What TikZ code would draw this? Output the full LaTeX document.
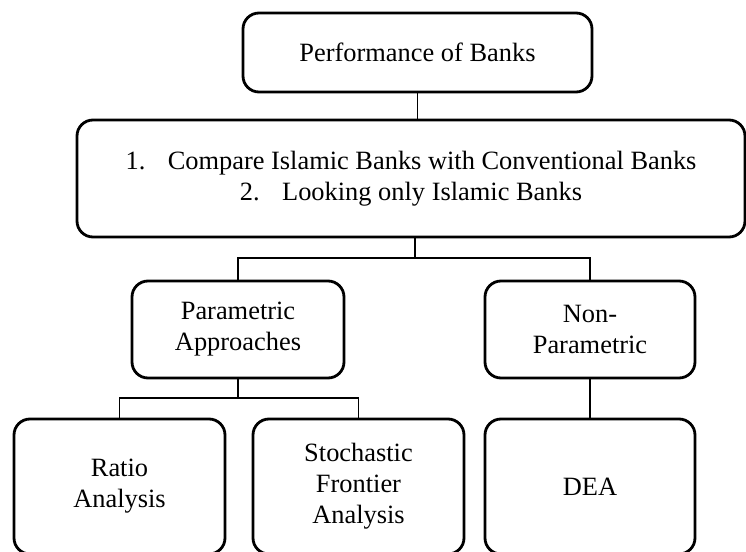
\documentclass[tikz,border=0pt]{standalone}
\usepackage{fontspec}
\setmainfont{Liberation Serif}
\begin{document}
\begin{tikzpicture}[x=0.5pt,y=-0.5pt,
  box/.style={draw, line width=1.4pt, rounded corners=8pt, align=center,
    inner sep=0pt, font=\fontsize{13.2}{15.5}\selectfont},
  link/.style={line width=0.6pt}]
\useasboundingbox (0,0) rectangle (746,552);
\clip (0,0) rectangle (746,552);

% boxes
\node[box, minimum width=174.5pt, minimum height=39.5pt] (perf) at (417.5,52.5) {Performance of Banks};
\node[box, minimum width=334pt, minimum height=58.5pt] (aims) at (411,178.5)
  {1.\hspace{0.85em}Compare Islamic Banks with Conventional Banks\\2.\hspace{0.85em}Looking only Islamic Banks};
\node[box, minimum width=106pt, minimum height=48.5pt] (param) at (238,329.5) {Parametric\\Approaches};
\node[box, minimum width=105pt, minimum height=48.5pt] (nonparam) at (590,329.5) {Non-\\Parametric};
\node[box, minimum width=105.5pt, minimum height=67.5pt] (ratio) at (119.5,486.5) {Ratio\\Analysis};
\node[box, minimum width=105.5pt, minimum height=67.5pt] (sfa) at (358.5,486.5) {Stochastic\\Frontier\\Analysis};
\node[box, minimum width=105pt, minimum height=67.5pt] (dea) at (590,486.5) {DEA};

% junction levels
\coordinate (j1) at (415,258);
\coordinate (j2) at (238,398);

% connectors
\draw[link] (perf.south) -- (perf.south |- aims.north);
\draw[link] (aims.south -| j1) -- (j1);
\draw[link] (param.north) -- (param.north |- j1) -- (nonparam.north |- j1) -- (nonparam.north);
\draw[link] (param.south) -- (j2);
\draw[link] (ratio.north) -- (ratio.north |- j2) -- (sfa.north |- j2) -- (sfa.north);
\draw[link] (nonparam.south) -- (dea.north);
\end{tikzpicture}
\end{document}
